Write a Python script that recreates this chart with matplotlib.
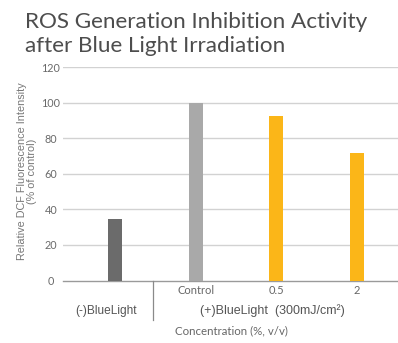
#ROS generation inhibition bar chart (DCF fluorescence, % of control)

import numpy as np
import matplotlib
matplotlib.use('Agg')
import matplotlib.pyplot as plt

#data
groups = ['(-)BlueLight', '(+)BlueLight  (300mJ/cm\u00b2)']
tick_labels = ['', 'Control', '0.5', '2']
values = [34.5, 100, 92.5, 71.5]
bar_colors = ['#6b6b6b', '#a9a9a9', '#fbb618', '#fbb618']
yticks = [0, 20, 40, 60, 80, 100, 120]
title_lines = ['ROS Generation Inhibition Activity', 'after Blue Light Irradiation']

W, H = 398, 343
fig = plt.figure(figsize=(W/100, H/100), dpi=100)

#axes placed in pixel units
left, right, bottom, top = 63, 398, 280.5, 67
ax = fig.add_axes([left/W, (H-bottom)/H, (right-left)/W, (bottom-top)/H])

x = np.arange(len(values))
ax.bar(x, values, width=0.173, color=bar_colors, zorder=3)
ax.set_xlim(-0.644, 3.507)
ax.set_ylim(0, 120)

#grid + axis styling
ax.set_yticks(yticks)
ax.set_yticklabels([str(t) for t in yticks], fontsize=7.8, color='#6a6a6a', family='Lato', ha='center')
ax.tick_params(axis='y', length=0, pad=8.6)
ax.set_xticks(x)
ax.set_xticklabels(tick_labels, fontsize=8, color='#666666', family='Lato')
ax.tick_params(axis='x', length=0, pad=3.5)
for t in yticks[1:]:
    ax.axhline(t, color='#d2d2d2', lw=1.0, zorder=1)
for s in ['top', 'right', 'left']:
    ax.spines[s].set_visible(False)
ax.spines['bottom'].set_color('#9a9a9a')
ax.spines['bottom'].set_linewidth(1.0)
ax.patch.set_alpha(0)

#divider between groups
fig.add_artist(plt.Line2D([153/W, 153/W], [(H-280.5)/H, (H-320)/H], color='#8a8a8a', lw=0.9))

#group labels
fig.text(106/W, (H-311)/H, groups[0], fontsize=8.6, color='#555555', family='Liberation Sans', ha='center', va='center')
fig.text(272/W, (H-311)/H, groups[1], fontsize=9, color='#555555', family='Liberation Sans', ha='center', va='center')
fig.text(231/W, (H-331)/H, 'Concentration (%, v/v)', fontsize=8.3, color='#666666', family='Lato', ha='center', va='center')

#y label
fig.text(27.5/W, (H-171.5)/H, 'Relative DCF Fluorescence Intensity\n(% of control)', rotation=90,
         fontsize=7.8, color='#777777', family='Liberation Sans', ha='center', va='center',
         multialignment='center', linespacing=1.0)

#title, one text per line
for line, base in zip(title_lines, [28, 52]):
    fig.text(25/W, (H-base)/H, line, fontsize=16.2, color='#4d4d4d', family='Lato',
             ha='left', va='baseline')

fig.savefig('out.png', dpi=100)
